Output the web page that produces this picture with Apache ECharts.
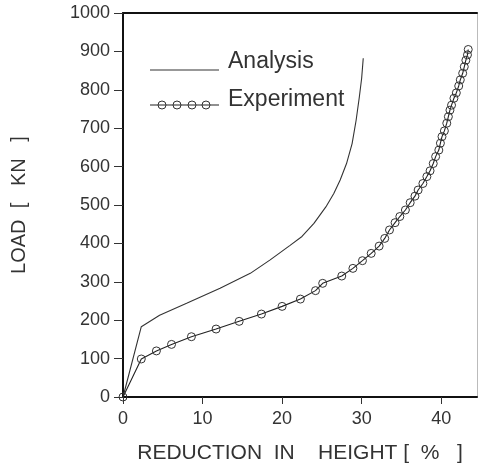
<!DOCTYPE html>
<html>
<head>
<meta charset="utf-8">
<script src="https://cdn.jsdelivr.net/npm/echarts@6/dist/echarts.min.js"></script>
<style>
html,body{margin:0;padding:0;background:#fff;}
#c{width:478px;height:473px;}
</style>
</head>
<body>
<div id="c"></div>
<script>
// Analysis curve (reduction in height %, load kN)
var analysisX = [0, 2.3, 4.6, 8.0, 12.2, 16.0, 18.5, 21.0, 22.5, 24.0, 25.5, 26.5, 27.3, 28.1, 28.8, 29.3, 29.7, 30.0, 30.2];
var analysisY = [0, 183, 213, 244, 283, 322, 357, 395, 418, 452, 495, 530, 565, 608, 660, 720, 780, 830, 882];

// Experiment points
var expX = [0, 2.3, 4.2, 6.1, 8.6, 11.7, 14.6, 17.4, 20.0, 22.3, 24.2, 25.1, 27.5, 28.9, 30.1, 31.2, 32.2, 32.9, 33.5, 34.2, 34.8, 35.5, 36.1, 36.7, 37.1, 37.7, 38.2, 38.6, 39.0, 39.3, 39.7, 39.9, 40.1, 40.4, 40.7, 40.9, 41.1, 41.3, 41.6, 41.9, 42.2, 42.4, 42.7, 42.9, 43.1, 43.3, 43.4];
var expY = [0, 99, 120, 137, 157, 177, 197, 216, 236, 255, 277, 296, 315, 335, 355, 374, 393, 413, 435, 454, 470, 487, 506, 523, 539, 556, 574, 589, 608, 626, 643, 661, 678, 693, 713, 730, 747, 760, 778, 792, 810, 826, 843, 860, 877, 891, 905];

var xTicks = [0, 10, 20, 30, 40];
var seriesNames = ['Analysis', 'Experiment'];
var xName = 'REDUCTION  IN    HEIGHT [  %   ]';
var yName = 'LOAD  [   KN   ]';

function pairs(xs, ys) { return xs.map(function (x, i) { return [x, ys[i]]; }); }

var FONT = "'Liberation Sans', Arial, sans-serif";
var chart = echarts.init(document.getElementById('c'));
chart.setOption({
  animation: false,
  backgroundColor: '#fff',
  grid: { left: 123, right: 1, top: 13, bottom: 76, containLabel: false },
  xAxis: [{
    type: 'value', min: 0, max: 44.5, interval: 10,
    name: xName, nameLocation: 'middle', nameGap: 46,
    nameTextStyle: { fontFamily: FONT, fontSize: 21, color: '#333' },
    axisLine: { show: true, onZero: false, lineStyle: { color: '#111', width: 2 } },
    axisTick: { show: true, length: 7, customValues: xTicks, lineStyle: { color: '#333', width: 1 } },
    axisLabel: { customValues: xTicks, fontFamily: FONT, fontSize: 18, color: '#333', margin: 13 },
    splitLine: { show: false }
  }, {
    type: 'value', position: 'top', min: 0, max: 44.5,
    axisLine: { show: true, onZero: false, lineStyle: { color: '#111', width: 2 } },
    axisTick: { show: false }, axisLabel: { show: false }, splitLine: { show: false }
  }],
  yAxis: [{
    type: 'value', min: 0, max: 1000, interval: 100,
    name: yName, nameLocation: 'middle', nameGap: 94,
    nameTextStyle: { fontFamily: FONT, fontSize: 20, color: '#333' },
    axisLine: { show: true, onZero: false, lineStyle: { color: '#111', width: 2 } },
    axisTick: { show: true, length: 9, lineStyle: { color: '#333', width: 1 } },
    axisLabel: { fontFamily: FONT, fontSize: 18, color: '#333', margin: 13,
      formatter: function (v) { return String(v); } },
    splitLine: { show: false }
  }, {
    type: 'value', position: 'right', min: 0, max: 1000,
    axisLine: { show: true, onZero: false, lineStyle: { color: '#bbb', width: 1 } },
    axisTick: { show: false }, axisLabel: { show: false }, splitLine: { show: false }
  }],
  series: [{
    name: seriesNames[0], type: 'line', data: pairs(analysisX, analysisY),
    showSymbol: false, symbol: 'none', smooth: false,
    lineStyle: { color: '#333', width: 1.1 }
  }, {
    name: seriesNames[1], type: 'line', data: pairs(expX, expY),
    symbol: 'circle', symbolSize: 8, smooth: false,
    lineStyle: { color: '#222', width: 1.1 },
    itemStyle: { color: 'rgba(255,255,255,0)', borderColor: '#333', borderWidth: 1 }
  }],
  graphic: [
    { type: 'line', shape: { x1: 150, y1: 70, x2: 219, y2: 70 }, style: { stroke: '#333', lineWidth: 1.1 } },
    { type: 'text', left: 228, top: 50, style: { text: seriesNames[0], font: '23px ' + FONT, fill: '#333' } },
    { type: 'line', shape: { x1: 150, y1: 105, x2: 219, y2: 105 }, style: { stroke: '#222', lineWidth: 1.1 } },
    { type: 'circle', shape: { cx: 162, cy: 105, r: 4 }, style: { fill: 'none', stroke: '#333', lineWidth: 1 } },
    { type: 'circle', shape: { cx: 177, cy: 105, r: 4 }, style: { fill: 'none', stroke: '#333', lineWidth: 1 } },
    { type: 'circle', shape: { cx: 192, cy: 105, r: 4 }, style: { fill: 'none', stroke: '#333', lineWidth: 1 } },
    { type: 'circle', shape: { cx: 206, cy: 105, r: 4 }, style: { fill: 'none', stroke: '#333', lineWidth: 1 } },
    { type: 'text', left: 228, top: 88, style: { text: seriesNames[1], font: '23px ' + FONT, fill: '#333' } }
  ]
});
</script>
</body>
</html>
